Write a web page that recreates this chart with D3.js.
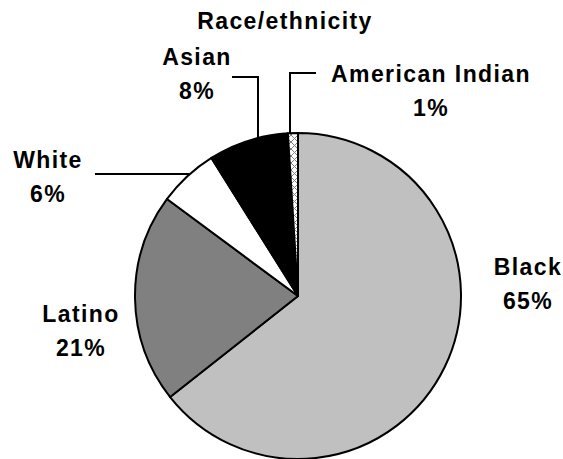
<!DOCTYPE html>
<html>
<head>
<meta charset="utf-8">
<script src="https://cdn.jsdelivr.net/npm/d3@7"></script>
<style>
  html, body { margin: 0; padding: 0; background: #fff; }
  svg { display: block; }
  text { font-family: "Liberation Sans", Arial, sans-serif; font-weight: bold; font-size: 23px; letter-spacing: 1.4px; fill: #000; }
</style>
</head>
<body>
<svg id="chart" width="563" height="459"></svg>
<script>
// Data
const categories = ["Black", "Latino", "White", "Asian", "American Indian"];
const values = [65, 21, 6, 8, 1];
const labels = ["65%", "21%", "6%", "8%", "1%"];
const fills = ["#c0c0c0", "#808080", "#ffffff", "#000000", "url(#hatch)"];
const title = "Race/ethnicity";

const W = 563, H = 459;
const cx = 298, cy = 296, R = 163;

const svg = d3.select("#chart");

// hatch pattern
const defs = svg.append("defs");
const pat = defs.append("pattern").attr("id", "hatch").attr("patternUnits", "userSpaceOnUse")
  .attr("width", 7).attr("height", 7);
pat.append("rect").attr("width", 7).attr("height", 7).attr("fill", "#fff");
pat.append("path").attr("d", "M0,0L7,7M7,0L0,7M-1,6L1,8M6,-1L8,1M-1,1L1,-1M6,8L8,6")
  .attr("stroke", "#808080").attr("stroke-width", 1);

const pie = d3.pie().sort(null).value(d => d)(values);
const arc = d3.arc().innerRadius(0).outerRadius(R);

const g = svg.append("g").attr("transform", `translate(${cx},${cy})`);
g.selectAll("path.slice").data(pie).join("path")
  .attr("class", "slice")
  .attr("d", arc)
  .attr("fill", (d, i) => fills[i])
  .attr("stroke", "#000")
  .attr("stroke-width", 2)
  .attr("stroke-linejoin", "round");

// Title
svg.append("text").attr("x", 285).attr("y", 29).attr("text-anchor", "middle").text(title);

// Label layout (positions of text blocks)
const labelPos = [
  { x: 528, y: 275 },   // Black
  { x: 81, y: 322 },    // Latino
  { x: 48, y: 168 },    // White
  { x: 197, y: 65 },    // Asian
  { x: 431, y: 82 }     // American Indian
];
categories.forEach((c, i) => {
  const t = svg.append("text").attr("text-anchor", "middle");
  t.append("tspan").attr("x", labelPos[i].x).attr("y", labelPos[i].y).text(c);
  t.append("tspan").attr("x", labelPos[i].x).attr("y", labelPos[i].y + 34).text(labels[i]);
});

// Leader lines: computed onto the pie rim
function yOnRim(x) { return cy - Math.sqrt(R * R - (x - cx) * (x - cx)); }
function xOnRimLeft(y) { return cx - Math.sqrt(R * R - (y - cy) * (y - cy)); }
const leaders = [
  // White: horizontal
  [[95, 174], [xOnRimLeft(174), 174]],
  // Asian: horizontal then vertical
  [[232, 77], [258, 77], [258, yOnRim(258)]],
  // American Indian
  [[316, 73], [290, 73], [290, yOnRim(290)]]
];
const line = d3.line();
svg.selectAll("path.leader").data(leaders).join("path")
  .attr("class", "leader")
  .attr("d", line)
  .attr("fill", "none")
  .attr("stroke", "#000")
  .attr("stroke-width", 2);
</script>
</body>
</html>
